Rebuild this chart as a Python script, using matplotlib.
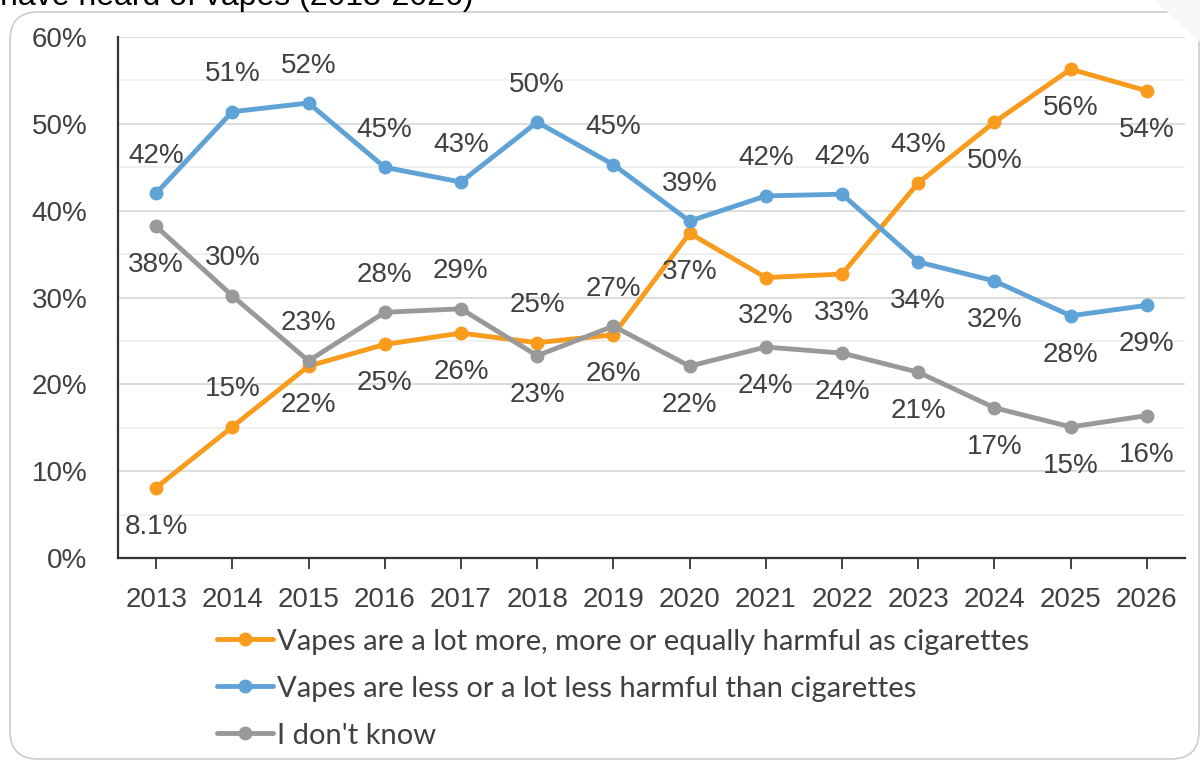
import numpy as np
import matplotlib
matplotlib.use('Agg')
from matplotlib import pyplot as plt
from matplotlib.patches import FancyBboxPatch, Polygon
from matplotlib.ticker import MultipleLocator, FuncFormatter

years = ['2013', '2014', '2015', '2016', '2017', '2018', '2019',
         '2020', '2021', '2022', '2023', '2024', '2025', '2026']

more_harmful = [8.1, 15.1, 22.1, 24.6, 25.9, 24.8, 25.7,
                37.4, 32.3, 32.7, 43.2, 50.2, 56.3, 53.8]
less_harmful = [42.0, 51.4, 52.4, 45.0, 43.3, 50.2, 45.3,
                38.8, 41.7, 41.9, 34.1, 31.9, 27.9, 29.1]
dont_know = [38.2, 30.2, 22.7, 28.3, 28.7, 23.3, 26.7,
             22.1, 24.3, 23.6, 21.4, 17.3, 15.1, 16.4]

labels = ['Vapes are a lot more, more or equally harmful as cigarettes',
          'Vapes are less or a lot less harmful than cigarettes',
          "I don't know"]

# where the data label sits: a = above, b = below
place_more = 'babbbabbbbabbb'
place_less = 'aaaaaaaaaabbbb'
place_dk = 'baaaababbbbbbb'

colors = ['#F99B1C', '#5FA3D6', '#999999']
txt = '#404040'
num_font = 'Liberation Sans'
fs = 20

fig = plt.figure(figsize=(12, 7.62), dpi=100)

# rounded card border
card = FancyBboxPatch((0.1, 0.03), 11.89, 7.47,
                      boxstyle='round,pad=0,rounding_size=0.28',
                      transform=fig.dpi_scale_trans, facecolor='white',
                      edgecolor='#d0d0d0', linewidth=1.3, zorder=-5)
fig.patches.append(card)
# faint decoration top right
deco = Polygon([[0.962, 1.0], [1.0, 1.0], [1.0, 0.945]], closed=True,
               transform=fig.transFigure, facecolor='#f7f7f7',
               edgecolor='none', zorder=-4)
fig.patches.append(deco)

fig.text(0.0, 0.994, 'have heard of vapes (2013-2026)', fontsize=23,
         color='black', family=num_font, va='baseline', ha='left')

ax = fig.add_axes([0.0983, 0.2677, 0.8892, 0.6837])
x = np.arange(len(years))

series = [(more_harmful, place_more), (less_harmful, place_less), (dont_know, place_dk)]
for (vals, place), col, lab in zip(series, colors, labels):
    ax.plot(x, vals, color=col, lw=3.5, marker='o', ms=9, label=lab,
            solid_capstyle='round', zorder=3)
    for xi, v, p in zip(x, vals, place):
        s = '%.1f%%' % v if v < 10 else '%.0f%%' % v
        off = 27 if p == 'a' else -28
        ax.annotate(s, (xi, v), xytext=(0, off), textcoords='offset points',
                    ha='center', va='center', fontsize=fs, color=txt,
                    family=num_font, zorder=4)

ax.set_xlim(-0.5, len(years) - 0.5)
ax.set_ylim(0, 60)
ax.set_xticks(x)
ax.set_xticklabels(years)
ax.yaxis.set_major_locator(MultipleLocator(10))
ax.yaxis.set_minor_locator(MultipleLocator(5))
ax.yaxis.set_major_formatter(FuncFormatter(lambda v, p: '%d%%' % v))
ax.grid(axis='y', which='major', color='#d9d9d9', lw=1.3, zorder=0)
ax.grid(axis='y', which='minor', color='#efefef', lw=1.3, zorder=0)
ax.set_axisbelow(True)

for sp in ['top', 'right']:
    ax.spines[sp].set_visible(False)
for sp in ['left', 'bottom']:
    ax.spines[sp].set_color('#333333')
    ax.spines[sp].set_linewidth(1.6)

ax.tick_params(axis='x', which='major', direction='out', length=8, width=1.3,
               color='#333333', labelsize=fs, labelcolor=txt, pad=13)
ax.tick_params(axis='y', which='both', length=0, labelsize=fs,
               labelcolor=txt, pad=22)
for t in ax.get_xticklabels() + ax.get_yticklabels():
    t.set_family(num_font)

leg = fig.legend(loc='upper left', bbox_to_anchor=(0.181, 0.175),
                 frameon=False, fontsize=21, labelcolor=txt,
                 handlelength=1.9, handletextpad=0.15, labelspacing=0.72,
                 borderaxespad=0, borderpad=0)
for t in leg.get_texts():
    t.set_family('Lato')

fig.savefig('out.png', dpi=100)
